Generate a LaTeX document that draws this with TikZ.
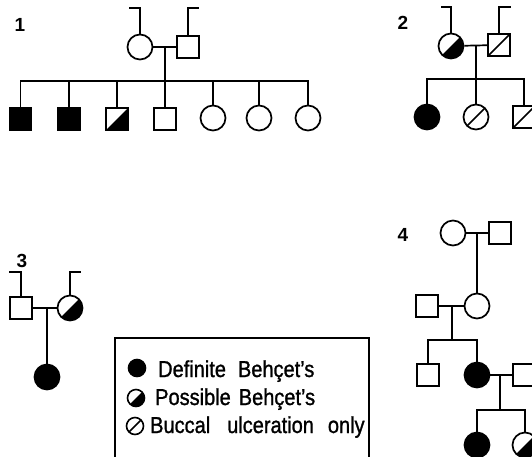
\documentclass[tikz,border=0pt]{standalone}
\usepackage{fontspec}
\setmainfont{Liberation Sans}
\newfontfamily\legfont[FakeBold=1.2]{Liberation Sans}
\begin{document}
\begin{tikzpicture}[x=1pt,y=-1pt,
 lw/.style={line width=1.7pt},
 male/.style={draw, rectangle, line width=1.7pt, minimum size=22pt, inner sep=0pt},
 female/.style={draw, circle, line width=1.7pt, minimum size=25pt, inner sep=0pt},
 affected/.style={fill=black},
 possible/.style={path picture={\fill[black] (path picture bounding box.south west) -- (path picture bounding box.north east) -- (path picture bounding box.south east) -- cycle;}},
 buccal/.style={path picture={\draw[line width=1.7pt] (path picture bounding box.south west) -- (path picture bounding box.north east);}},
 famlabel/.style={inner sep=0pt, font=\fontsize{19}{19}\selectfont\bfseries},
 legtext/.style={anchor=base west, inner sep=0pt, font=\fontsize{20}{20}\legfont},
 legsym/.style={draw, circle, line width=1.6pt, minimum size=17pt, inner sep=0pt},
]
\useasboundingbox (0,0) rectangle (532,456);
\fill[white] (0,0) rectangle (532,456);

% ---------- Family 1 ----------
\node[famlabel] (l1) at (20,25) {1};
\node[female] (f1m) at (140,47) {};
\node[male] (f1f) at (188,47) {};
\coordinate (f1mb) at (129,8);
\coordinate (f1fb) at (199,8);
\draw[lw] (f1m.north) |- (f1mb);
\draw[lw] (f1f.north) |- (f1fb);
\draw[lw] (f1m) -- (f1f);
\coordinate (f1d) at (165,47);
\coordinate (f1s) at (165,81);
\draw[lw] (f1d) -- (f1s);
\node[male,affected] (f1c1) at (20.5,119) {};
\node[male,affected] (f1c2) at (69,119) {};
\node[male,possible] (f1c3) at (117,119) {};
\node[male] (f1c4) at (165,119) {};
\node[female] (f1c5) at (213,118) {};
\node[female] (f1c6) at (259,118) {};
\node[female] (f1c7) at (308,118) {};
\draw[lw] (f1c1.north) |- (f1s);
\draw[lw] (f1c7.north) |- (f1s);
\foreach \c in {f1c2,f1c3,f1c4,f1c5,f1c6} \draw[lw] (\c.north) -- (\c.north |- f1s);

% ---------- Family 2 ----------
\node[famlabel] (l2) at (403,23) {2};
\node[female,possible] (f2m) at (451,46) {};
\node[male,buccal] (f2f) at (499,45) {};
\coordinate (f2mb) at (441,7);
\coordinate (f2fb) at (511,7);
\draw[lw] (f2m.north) |- (f2mb);
\draw[lw] (f2f.north) |- (f2fb);
\draw[lw] (f2m) -- (f2f);
\coordinate (f2d) at (476,46);
\coordinate (f2s) at (476,79);
\draw[lw] (f2d) -- (f2s);
\node[female,affected] (f2c1) at (427,117) {};
\node[female,buccal] (f2c2) at (476,117) {};
\node[male,buccal] (f2c3) at (524,117) {};
\draw[lw] (f2c1.north) |- (f2s);
\draw[lw] (f2c3.north) |- (f2s);
\draw[lw] (f2c2.north) -- (f2s);

% ---------- Family 3 ----------
\node[famlabel] (l3) at (22,261) {3};
\node[male] (f3f) at (21,308) {};
\node[female,possible] (f3m) at (70,308) {};
\coordinate (f3fb) at (9,272);
\coordinate (f3mb) at (81,272);
\draw[lw] (f3f.north) |- (f3fb);
\draw[lw] (f3m.north) |- (f3mb);
\draw[lw] (f3f) -- (f3m);
\coordinate (f3d) at (47,308);
\node[female,affected] (f3c) at (47,377) {};
\draw[lw] (f3d) -- (f3c);

% ---------- Family 4 ----------
\node[famlabel] (l4) at (403,235) {4};
\node[female] (f4m) at (453,233) {};
\node[male] (f4f) at (500,233) {};
\draw[lw] (f4m) -- (f4f);
\coordinate (f4d1) at (477,233);
\node[female] (f4g) at (477,306) {};
\draw[lw] (f4d1) -- (f4g);
\node[male] (f4h) at (427,306) {};
\draw[lw] (f4h) -- (f4g);
\coordinate (f4d2) at (452,306);
\coordinate (f4s2) at (452,340);
\draw[lw] (f4d2) -- (f4s2);
\node[male] (f4c1) at (428,375) {};
\node[female,affected] (f4c2) at (477,375) {};
\draw[lw] (f4c1.north) |- (f4s2);
\draw[lw] (f4c2.north) |- (f4s2);
\node[male] (f4h2) at (524,375) {};
\draw[lw] (f4c2) -- (f4h2);
\coordinate (f4d3) at (500,375);
\coordinate (f4s3) at (500,410);
\draw[lw] (f4d3) -- (f4s3);
\node[female,affected] (f4c3) at (477,445) {};
\node[female,possible] (f4c4) at (525,445) {};
\draw[lw] (f4c3.north) |- (f4s3);
\draw[lw] (f4c4.north) |- (f4s3);

% ---------- Legend ----------
\draw[line width=1.4pt] (115,338) rectangle (369,470);
\node[legsym,affected] (k1) at (137,368) {};
\node[legsym,possible] (k2) at (136,398) {};
\node[legsym,buccal] (k3) at (135,426) {};
\node[legtext] (t1) at (158,377) {\scalebox{1}[1.15]{Definite\hspace{12pt}Behçet’s}};
\node[legtext] (t2) at (155,405) {\scalebox{1}[1.15]{Possible\hspace{8pt}Behçet’s}};
\node[legtext] (t3) at (150,433) {\scalebox{1}[1.15]{Buccal\hspace{17pt}ulceration\hspace{14pt}only}};
\end{tikzpicture}
\end{document}
